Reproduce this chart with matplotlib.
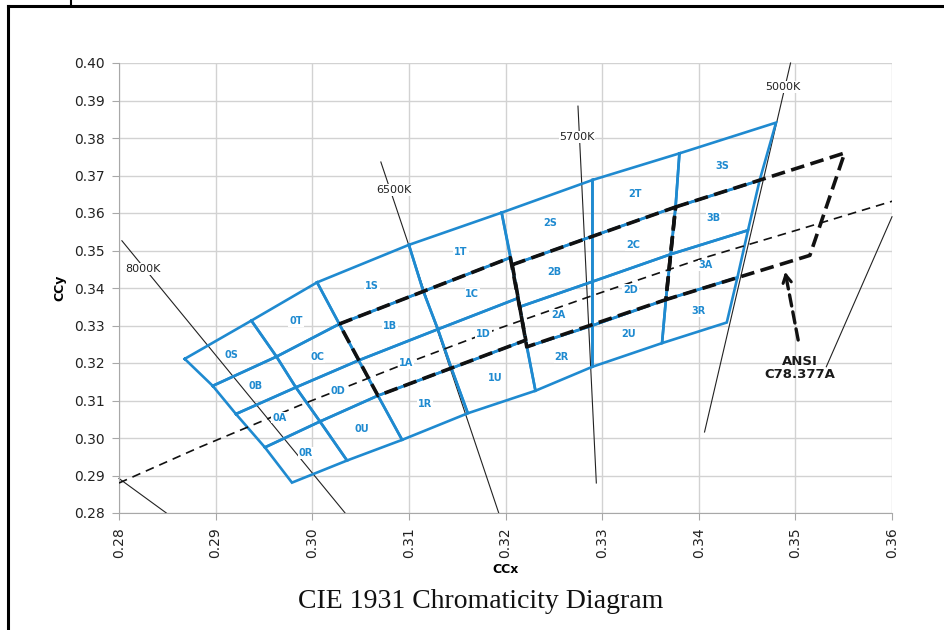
import numpy as np
import matplotlib
matplotlib.use('Agg')
import matplotlib.pyplot as plt
from matplotlib.lines import Line2D

# Bin grid columns: 5 points each (top edge, row 1, row 2, row 3, bottom edge)
c0_x = [0.2868, 0.2897, 0.2921, 0.2951, 0.2979]
c0_y = [0.3211, 0.3139, 0.3064, 0.2975, 0.2881]
c1_x = [0.2937, 0.2963, 0.2983, 0.3008, 0.3036]
c1_y = [0.3313, 0.3217, 0.3135, 0.3044, 0.2940]
c2_x = [0.3005, 0.3028, 0.3048, 0.3068, 0.3093]
c2_y = [0.3415, 0.3304, 0.3207, 0.3113, 0.2995]
c3_x = [0.3100, 0.3115, 0.3130, 0.3144, 0.3161]
c3_y = [0.3515, 0.3391, 0.3290, 0.3186, 0.3066]
c4_x = [0.3196, 0.3205, 0.3213, 0.3221, 0.3231]
c4_y = [0.3601, 0.3481, 0.3373, 0.3261, 0.3126]
c4b_x = [0.3196, 0.3207, 0.3215, 0.3222, 0.3231]
c4b_y = [0.3601, 0.3462, 0.3350, 0.3243, 0.3126]
c5_x = [0.3290, 0.3290, 0.3290, 0.3290, 0.3290]
c5_y = [0.3688, 0.3538, 0.3417, 0.3300, 0.3190]
c6_x = [0.3380, 0.3376, 0.3371, 0.3366, 0.3362]
c6_y = [0.3759, 0.3616, 0.3490, 0.3369, 0.3253]
c7_x = [0.3480, 0.3463, 0.3451, 0.3440, 0.3429]
c7_y = [0.3841, 0.3687, 0.3554, 0.3428, 0.3308]

# bin names, one list per column pair, top to bottom
bin_names = [
    ['0S', '0B', '0A', '0R'], ['0T', '0C', '0D', '0U'],
    ['1S', '1B', '1A', '1R'], ['1T', '1C', '1D', '1U'],
    ['2S', '2B', '2A', '2R'], ['2T', '2C', '2D', '2U'],
    ['3S', '3B', '3A', '3R'],
]

# ANSI C78.377A quadrangles
q6500_x = [0.3028, 0.3205, 0.3221, 0.3068]
q6500_y = [0.3304, 0.3481, 0.3261, 0.3113]
q5700_x = [0.3207, 0.3376, 0.3366, 0.3222]
q5700_y = [0.3462, 0.3616, 0.3369, 0.3243]
q5000_x = [0.3376, 0.3551, 0.3515, 0.3366]
q5000_y = [0.3616, 0.3760, 0.3487, 0.3369]

# black body locus (thin dashed)
locus_x = [0.2800, 0.2884, 0.2987, 0.3091, 0.3194, 0.3298, 0.3401, 0.3505, 0.3601]
locus_y = [0.2880, 0.2976, 0.3087, 0.3193, 0.3293, 0.3387, 0.3477, 0.3557, 0.3632]

# isotherms
iso_names = ['8000K', '6500K', '5700K', '5000K', '', '']
iso_x = [[0.2803, 0.3034], [0.3071, 0.3193], [0.3275, 0.3294], [0.3495, 0.3406],
         [0.2800, 0.2849], [0.3600, 0.3532]]
iso_y = [[0.3526, 0.2800], [0.3736, 0.2800], [0.3885, 0.2880], [0.4000, 0.3016],
         [0.2892, 0.2800], [0.3590, 0.3190]]
iso_label_pos = [(0.2825, 0.3451), (0.3084, 0.3661), (0.3274, 0.3803), (0.3487, 0.3936)]

BLUE = '#1f8ad0'


def draw_bins(ax):
    cols = [(c0_x, c0_y), (c1_x, c1_y), (c2_x, c2_y), (c2_x, c2_y), (c3_x, c3_y),
            (c3_x, c3_y), (c4_x, c4_y), (c4b_x, c4b_y), (c5_x, c5_y), (c5_x, c5_y),
            (c6_x, c6_y), (c6_x, c6_y), (c7_x, c7_y)]
    # pairs of (left, right) columns
    pairs = [(cols[0], cols[1]), (cols[1], cols[2]), (cols[3], cols[4]), (cols[5], cols[6]),
             (cols[7], cols[8]), (cols[9], cols[10]), (cols[11], cols[12])]
    for (left, right), names in zip(pairs, bin_names):
        for r in range(4):
            xs = [left[0][r], right[0][r], right[0][r + 1], left[0][r + 1], left[0][r]]
            ys = [left[1][r], right[1][r], right[1][r + 1], left[1][r + 1], left[1][r]]
            ax.plot(xs, ys, color=BLUE, lw=1.9, zorder=3, solid_joinstyle='miter')
            ax.text(np.mean(xs[:4]), np.mean(ys[:4]), names[r], color=BLUE, fontsize=7,
                    fontweight='bold', ha='center', va='center', zorder=7,
                    bbox=dict(facecolor='white', edgecolor='none', pad=0.6))


def plot_chart():
    fig = plt.figure(figsize=(9.44, 6.3), dpi=100)
    ax = fig.add_axes([119 / 944, 1 - 513 / 630, (892 - 119) / 944, (513 - 63) / 630])
    ax.set_xlim(0.28, 0.36)
    ax.set_ylim(0.28, 0.40)
    xt = np.round(np.arange(0.28, 0.3601, 0.01), 2)
    yt = np.round(np.arange(0.28, 0.4001, 0.01), 2)
    ax.set_xticks(xt)
    ax.set_yticks(yt)
    ax.set_xticklabels(['%.2f' % v for v in xt], rotation=90)
    ax.set_yticklabels(['%.2f' % v for v in yt])
    ax.grid(True, color='#d2d2d2', lw=1.0)
    ax.set_axisbelow(True)
    for s in ['top', 'right']:
        ax.spines[s].set_visible(False)
    for s in ['left', 'bottom']:
        ax.spines[s].set_color('#a8a8a8')
    ax.tick_params(direction='out', length=5, color='#a8a8a8', labelsize=10,
                   labelcolor='#222222', pad=5)
    ax.set_xlabel('CCx', fontsize=9, fontweight='bold', labelpad=4)
    ax.set_ylabel('CCy', fontsize=9, fontweight='bold', labelpad=6)

    # isotherms
    for xs, ys in zip(iso_x, iso_y):
        ax.plot(xs, ys, color='#222222', lw=0.8, zorder=2, clip_on=False)
    for name, (tx, ty) in zip(iso_names, iso_label_pos):
        ax.text(tx, ty, name, fontsize=8, color='#222222', ha='center', va='center',
                zorder=6, bbox=dict(facecolor='white', edgecolor='none', pad=0.5))

    draw_bins(ax)

    # black body locus
    ax.plot(locus_x, locus_y, color='#111111', lw=1.2, ls=(0, (5.2, 3.6)), zorder=4)

    # ANSI quadrangles
    for qx, qy in [(q6500_x, q6500_y), (q5700_x, q5700_y), (q5000_x, q5000_y)]:
        ax.plot(qx + qx[:1], qy + qy[:1], color='#111111', lw=2.6, ls=(0, (3.8, 1.8)),
                zorder=5, dash_capstyle='butt')

    # ANSI label and arrow
    ax.text(0.3505, 0.3187, 'ANSI\nC78.377A', fontsize=9.5, fontweight='bold',
            color='#1a1a1a', ha='center', va='center', linespacing=1.05, zorder=7)
    ax.annotate('', xy=(0.34894, 0.34427), xytext=(0.35029, 0.32613),
                arrowprops=dict(arrowstyle='-', lw=2.4, ls=(0, (3.4, 1.8)),
                                color='#111111', shrinkA=0, shrinkB=0), zorder=6)
    ax.annotate('', xy=(0.34894, 0.34427), xytext=(0.34902, 0.34320),
                arrowprops=dict(arrowstyle='->,head_length=0.55,head_width=0.3', lw=2.2,
                                color='#111111', shrinkA=0, shrinkB=0), zorder=6)

    fig.text(481 / 944, 1 - 601 / 630, 'CIE 1931 Chromaticity Diagram',
             fontsize=20, family='Liberation Serif', ha='center', va='center', color='#111111')

    # outer frame of the scanned page
    fig.add_artist(Line2D([8 / 944, 8 / 944], [0, 1 - 6 / 630], color='black', lw=2.2,
                          transform=fig.transFigure))
    fig.add_artist(Line2D([8 / 944, 1], [1 - 6 / 630, 1 - 6 / 630], color='black', lw=2.2,
                          transform=fig.transFigure))
    fig.add_artist(Line2D([71 / 944, 71 / 944], [1 - 6 / 630, 1], color='black', lw=1.5,
                          transform=fig.transFigure))

    fig.savefig('out.png', dpi=100)


if __name__ == '__main__':
    plot_chart()
